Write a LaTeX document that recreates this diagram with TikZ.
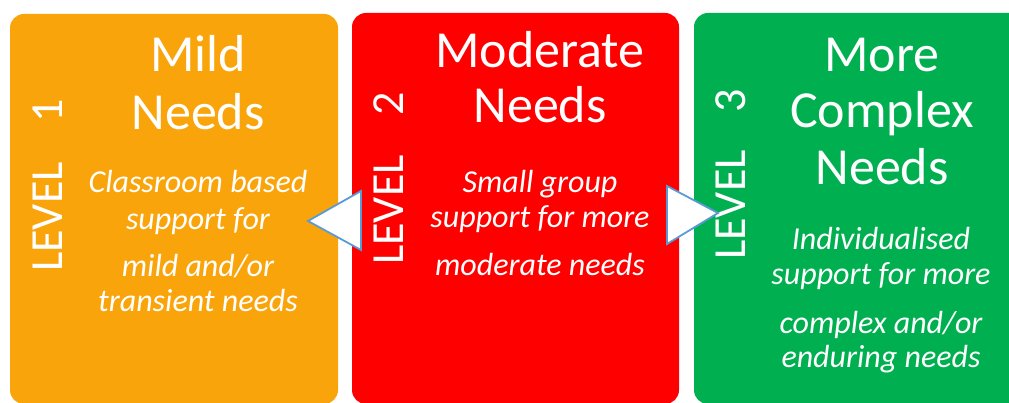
\documentclass[tikz,border=0pt]{standalone}
\usepackage{fontspec}
\setmainfont{Carlito}
\definecolor{orng}{RGB}{249,164,10}
\definecolor{rd}{RGB}{255,0,0}
\definecolor{grn}{RGB}{0,176,80}
\definecolor{tri}{RGB}{91,155,213}
\begin{document}
\begin{tikzpicture}[x=1pt,y=1pt,
  panel/.style={rounded corners=14pt},
  title/.style={text=white,font=\fontsize{52}{58}\selectfont,anchor=base,inner sep=0pt},
  body/.style={text=white,font=\fontsize{32}{37}\selectfont\itshape,anchor=base,inner sep=0pt},
  lvl/.style={text=white,font=\fontsize{46}{50}\selectfont,rotate=90,anchor=base west,inner sep=0pt},
  pointer/.style={fill=white,draw=tri,line width=1.8pt,line join=miter}]
\useasboundingbox (0,0) rectangle (1009,-403);
\clip (0,0) rectangle (1009,-403);
% panels
\fill[orng,panel] (10,-14) rectangle (338,-404);
\fill[rd,panel] (352,-13) rectangle (679,-404);
\fill[grn,panel] (694,-13) rectangle (1030,-404);
% level labels
\node[lvl] (l1) at (62,-272) {LEVEL\hspace{40pt}1};
\node[lvl] (l2) at (403,-265) {LEVEL\hspace{40pt}2};
\node[lvl] (l3) at (745,-260) {LEVEL\hspace{38pt}3};
% orange panel
\node[title] (o1) at (198,-72) {Mild};
\node[title] (o2) at (198,-130) {Needs};
\node[body] (o3) at (198,-193) {Classroom based};
\node[body] (o4) at (198,-230) {support for};
\node[body] (o5) at (198,-277) {mild and/or};
\node[body] (o6) at (198,-312) {transient needs};
% red panel
\node[title] (r1) at (540,-68) {Moderate};
\node[title] (r2) at (540,-123) {Needs};
\node[body] (r3) at (540,-193) {Small group};
\node[body] (r4) at (540,-228) {support for more};
\node[body] (r5) at (540,-276) {moderate needs};
% green panel
\node[title] (g1) at (882,-72) {More};
\node[title] (g2) at (882,-128) {Complex};
\node[title] (g3) at (882,-185) {Needs};
\node[body] (g4) at (881,-250) {Individualised};
\node[body] (g5) at (881,-285) {support for more};
\node[body] (g6) at (881,-333) {complex and/or};
\node[body] (g7) at (881,-367) {enduring needs};
% pointers
\draw[pointer] (308,-221) -- (361,-191) -- (361,-250) -- cycle;
\draw[pointer] (718,-213) -- (667,-186) -- (667,-244) -- cycle;
\end{tikzpicture}
\end{document}
